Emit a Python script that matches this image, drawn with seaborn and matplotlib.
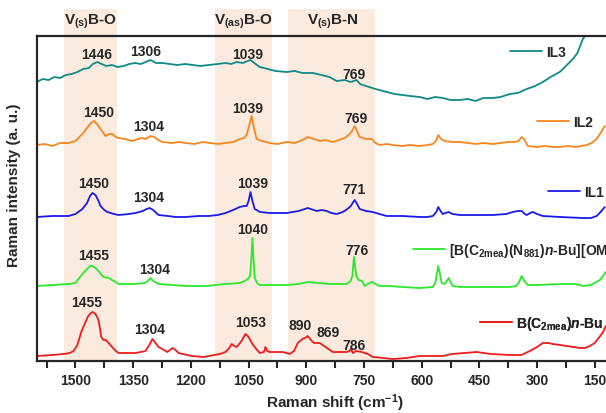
import numpy as np
import pandas as pd
import matplotlib
matplotlib.use('Agg')
import matplotlib.pyplot as plt
import seaborn as sns

# Raman spectra, values (stacked, offset per sample)
il3_x = [1601, 1585, 1570, 1555, 1540, 1525, 1510, 1495, 1480, 1465,
         1455, 1443, 1432, 1420, 1405, 1390, 1375, 1360, 1345, 1330,
         1318, 1305, 1290, 1274, 1255, 1235, 1214, 1195, 1175, 1154,
         1130, 1110, 1095, 1081, 1065, 1052, 1045, 1035, 1021, 1000,
         980, 951, 930, 910, 883, 860, 840, 821, 800, 785,
         769, 760, 745, 720, 691, 670, 650, 630, 605, 585,
         565, 545, 525, 501, 480, 460, 440, 415, 395, 371,
         350, 327, 305, 285, 265, 241, 225, 207, 195, 181,
         170, 163, 150, 137]
il3_y = [19, 22, 21, 24, 23, 26, 27, 29, 32, 33,
         37, 39, 37, 35, 36, 34, 35, 37, 38, 37,
         39, 41, 38, 38, 37, 36, 37, 36, 35, 36,
         37, 38, 37, 39, 38, 40, 41, 38, 34, 32,
         30, 29, 30, 28, 28, 26, 24, 20, 21, 19,
         21, 17, 15, 12, 9, 7, 6, 5, 4, 2,
         4, 3, 1, 1, 2, 0, 3, 3, 4, 7,
         8, 12, 15, 19, 24, 29, 35, 42, 48, 62,
         68, 77, 85, 97]

il2_x = [1601, 1580, 1560, 1540, 1518, 1500, 1482, 1470, 1460, 1452,
         1444, 1435, 1422, 1412, 1404, 1395, 1388, 1370, 1355, 1344,
         1330, 1318, 1305, 1295, 1285, 1274, 1250, 1230, 1214, 1190,
         1170, 1150, 1130, 1110, 1090, 1073, 1062, 1055, 1048, 1042,
         1036, 1029, 1015, 995, 975, 951, 930, 910, 896, 880,
         865, 850, 831, 815, 800, 790, 781, 774, 767, 761,
         745, 730, 720, 709, 690, 675, 650, 630, 605, 585,
         571, 563, 557, 550, 540, 520, 501, 480, 460, 440,
         415, 395, 375, 360, 348, 340, 332, 324, 300, 280,
         260, 241, 220, 200, 185, 171, 158, 145, 135, 124]
il2_y = [1, 2, 0, 3, 3, 5, 12, 18, 23, 25,
         22, 17, 10, 12, 12, 9, 8, 7, 5, 6,
         8, 7, 10, 9, 6, 4, 3, 4, 3, 2,
         4, 3, 2, 3, 4, 7, 8, 11, 21, 30,
         18, 7, 5, 3, 2, 4, 3, 6, 9, 7,
         5, 6, 4, 6, 8, 11, 15, 20, 14, 9,
         7, 7, 3, 1, 2, 1, 0, 1, 0, 1,
         2, 5, 11, 7, 5, 4, 4, 3, 2, 3,
         2, 3, 4, 4, 5, 9, 6, 0, -1, 0,
         -1, -1, 0, -1, 0, 1, 3, 7, 13, 20]

il1_x = [1601, 1560, 1518, 1500, 1482, 1470, 1462, 1456, 1448, 1440,
         1435, 1425, 1417, 1400, 1388, 1360, 1344, 1325, 1315, 1307,
         1298, 1284, 1260, 1240, 1214, 1180, 1154, 1130, 1110, 1090,
         1073, 1062, 1055, 1050, 1045, 1040, 1034, 1020, 995, 970,
         951, 920, 896, 873, 860, 847, 835, 821, 805, 793,
         784, 778, 774, 768, 761, 745, 727, 710, 691, 650,
         605, 585, 571, 562, 557, 551, 545, 538, 530, 520,
         501, 460, 415, 380, 363, 350, 340, 332, 327, 318,
         311, 300, 285, 240, 181, 160, 145, 135, 124]
il1_y = [1, 2, 2, 4, 9, 15, 22, 25, 23, 17,
         12, 8, 6, 4, 3, 4, 5, 7, 9, 10,
         8, 3, 2, 1, 1, 2, 2, 3, 5, 8,
         11, 12, 12, 17, 26, 17, 9, 6, 5, 5,
         5, 7, 10, 7, 8, 7, 5, 4, 6, 9,
         12, 16, 18, 14, 9, 7, 6, 4, 2, 2,
         1, 1, 2, 6, 11, 7, 4, 5, 6, 4,
         3, 3, 3, 4, 6, 7, 7, 4, 3, 5,
         6, 4, 2, 1, 0, 0, 2, 6, 11]

oms_x = [1601, 1560, 1518, 1500, 1482, 1470, 1462, 1456, 1448, 1440,
         1432, 1427, 1414, 1400, 1388, 1344, 1320, 1312, 1305, 1298,
         1284, 1250, 1214, 1160, 1110, 1073, 1060, 1052, 1046, 1043,
         1040, 1037, 1034, 1028, 1021, 995, 951, 920, 896, 870,
         839, 815, 795, 785, 780, 778, 776, 773, 770, 764,
         755, 748, 740, 730, 720, 709, 683, 650, 605, 571,
         565, 560, 557, 553, 548, 540, 535, 530, 525, 519,
         500, 457, 400, 371, 355, 348, 340, 333, 324, 300,
         241, 200, 181, 160, 137, 121]
oms_y = [2, 3, 4, 5, 14, 19, 22, 22, 20, 17,
         13, 11, 10, 7, 4, 4, 5, 7, 10, 7,
         4, 3, 2, 2, 4, 5, 7, 9, 12, 28,
         50, 28, 10, 5, 3, 3, 3, 4, 6, 5,
         4, 4, 4, 7, 12, 22, 31, 22, 12, 8,
         7, 2, 4, 6, 4, 2, 2, 1, 0, 1,
         5, 15, 22, 15, 5, 4, 7, 10, 6, 2,
         1, 1, 1, 1, 2, 5, 12, 7, 3, 3,
         4, 4, 2, 3, 8, 16]

bu_x = [1601, 1560, 1531, 1515, 1505, 1495, 1485, 1475, 1467, 1460,
        1455, 1448, 1441, 1436, 1433, 1427, 1421, 1414, 1407, 1395,
        1388, 1360, 1344, 1330, 1318, 1308, 1300, 1292, 1284, 1270,
        1261, 1248, 1240, 1232, 1210, 1196, 1167, 1140, 1125, 1110,
        1100, 1094, 1087, 1081, 1070, 1058, 1050, 1040, 1030, 1021,
        1010, 1006, 1002, 995, 975, 961, 943, 932, 922, 910,
        903, 896, 888, 880, 873, 865, 850, 831, 810, 795,
        788, 784, 779, 770, 756, 740, 727, 700, 675, 640,
        605, 575, 545, 522, 490, 457, 420, 371, 340, 319,
        300, 285, 270, 259, 240, 223, 205, 189, 175, 163,
        150, 142, 130, 121]
bu_y = [3, 4, 5, 6, 8, 14, 27, 36, 43, 46,
        47, 45, 40, 30, 22, 19, 19, 16, 13, 8,
        6, 6, 6, 7, 8, 14, 20, 16, 12, 9,
        7, 11, 9, 6, 4, 3, 2, 4, 5, 7,
        11, 15, 13, 12, 17, 25, 22, 15, 10, 6,
        7, 12, 8, 7, 7, 7, 5, 8, 16, 20,
        21, 23, 19, 16, 16, 16, 12, 7, 7, 7,
        8, 10, 6, 8, 7, 5, 2, 1, 0, 1,
        3, 3, 3, 5, 6, 7, 5, 4, 4, 8,
        12, 16, 16, 15, 14, 13, 12, 11, 11, 13,
        16, 20, 26, 33]

names = ['IL3', 'IL2', 'IL1',
         r'[B(C$_{2mea}$)(N$_{881}$)$\mathit{n}$-Bu][OMs]',
         r'B(C$_{2mea}$)$\mathit{n}$-Bu']
offsets = [260, 215, 143, 73, 2]
colors = ['#0F8A87', '#F7861C', '#1A1AE8', '#2BE82B', '#EE1C1C']
xs_all = [il3_x, il2_x, il1_x, oms_x, bu_x]
ys_all = [il3_y, il2_y, il1_y, oms_y, bu_y]

peak_labels = [
    ('1446', 1444, 307), ('1306', 1317, 310), ('1039', 1052, 307), ('769', 776, 287),
    ('1450', 1441, 249), ('1304', 1311, 235), ('1039', 1052, 253), ('769', 771, 243),
    ('1450', 1452, 178), ('1304', 1309, 164), ('1039', 1039, 178), ('771', 776, 172),
    ('1455', 1452, 106), ('1304', 1293, 92), ('1040', 1039, 132), ('776', 768, 111),
    ('1455', 1470, 59), ('1304', 1306, 32), ('1053', 1044, 39), ('890', 916, 36),
    ('869', 844, 29), ('786', 776, 16),
]
bands = [(1529, 1393, r'V$_{(s)}$B-O', 1460),
         (1136, 990, r'V$_{(as)}$B-O', 1062),
         (948, 722, r'V$_{(s)}$B-N', 831)]
legend_pos = [(0.820, 0.951), (0.867, 0.735), (0.886, 0.520), (0.652, 0.342), (0.768, 0.117)]

sns.set_style('ticks')
plt.rcParams['font.family'] = ['Liberation Sans', 'DejaVu Sans']
plt.rcParams['font.weight'] = 'bold'
plt.rcParams['axes.labelweight'] = 'bold'
plt.rcParams['mathtext.fontset'] = 'custom'
plt.rcParams['mathtext.rm'] = 'Liberation Sans:bold'
plt.rcParams['mathtext.bf'] = 'Liberation Sans:bold'
plt.rcParams['mathtext.it'] = 'Liberation Sans:italic:bold'
plt.rcParams['mathtext.default'] = 'rm'

frames = []
for name, xs, ys, off in zip(names, xs_all, ys_all, offsets):
    frames.append(pd.DataFrame({'shift': xs, 'intensity': np.array(ys) + off, 'sample': name}))
df = pd.concat(frames, ignore_index=True)

fig = plt.figure(figsize=(6.06, 4.14), dpi=100)
ax = fig.add_axes([37 / 606, 52 / 414, 577 / 606, 325 / 414])

for lo, hi, label, xc in bands:
    ax.axvspan(lo, hi, ymin=0, ymax=1.083, color='#FBEBDF', lw=0, zorder=0, clip_on=False)
    ax.text(xc, 340, label, ha='center', va='center', fontsize=11)

sns.lineplot(data=df, x='shift', y='intensity', hue='sample', hue_order=names,
             palette=dict(zip(names, colors)), estimator=None, legend=False,
             linewidth=1.3, ax=ax)

for txt, x, y in peak_labels:
    ax.text(x, y, txt, ha='center', va='center', fontsize=10)

lines = ax.get_lines()
for line, name, pos in zip(lines, names, legend_pos):
    leg = ax.legend([line], [name], loc='center left', bbox_to_anchor=pos,
                    frameon=False, borderaxespad=0, borderpad=0,
                    handlelength=2.3, handletextpad=0.3, fontsize=10)
    ax.add_artist(leg)

ax.set_xlim(1600, 100)
ax.set_ylim(0, 325)
ax.set_xticks([1500, 1350, 1200, 1050, 900, 750, 600, 450, 300, 150])
ax.set_xticks(np.arange(1575, 100, -150), minor=True)
ax.set_yticks([])
ax.tick_params(axis='x', which='both', direction='out', length=5, width=1.5, labelsize=10)
for s in ax.spines.values():
    s.set_linewidth(1.6)

ax.set_xlabel('Raman shift (cm$^{-1}$)', fontsize=11, fontweight='bold')
ax.set_ylabel('Raman intensity (a. u.)', fontsize=11, fontweight='bold')
ax.xaxis.set_label_coords(0.516, -0.093)
ax.yaxis.set_label_coords(-0.028, 0.545)

plt.savefig('out.png', dpi=100)
